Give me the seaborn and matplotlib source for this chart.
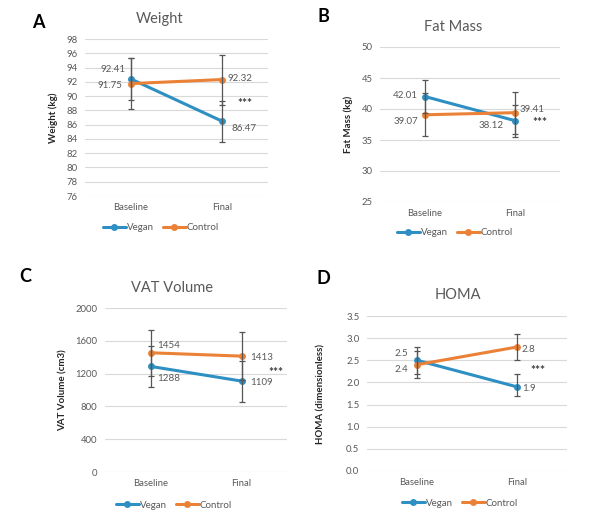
import numpy as np
import pandas as pd
import matplotlib
matplotlib.use("Agg")
import matplotlib.pyplot as plt
import seaborn as sns

# ---------------- data ----------------
categories = ["Baseline", "Final"]
groups = ["Vegan", "Control"]

weight_vegan = [92.41, 86.47]
weight_control = [91.75, 92.32]
weight_vegan_err = [2.9, 2.85]
weight_control_err = [3.55, 3.5]

fat_vegan = [42.01, 38.12]
fat_control = [39.07, 39.41]
fat_vegan_err = [2.7, 2.6]
fat_control_err = [3.5, 3.4]

vat_vegan = [1288, 1109]
vat_control = [1454, 1413]
vat_vegan_err = [250, 250]
vat_control_err = [280, 290]

homa_vegan = [2.5, 1.9]
homa_control = [2.4, 2.8]
homa_vegan_err_low = [0.3, 0.2]
homa_vegan_err_high = [0.3, 0.3]
homa_control_err = [0.3, 0.3]

weight_labels = {"Vegan": ["92.41", "86.47"], "Control": ["91.75", "92.32"]}
fat_labels = {"Vegan": ["42.01", "38.12"], "Control": ["39.07", "39.41"]}
vat_labels = {"Vegan": ["1288", "1109"], "Control": ["1454", "1413"]}
homa_labels = {"Vegan": ["2.5", "1.9"], "Control": ["2.4", "2.8"]}

weight_ticks = list(range(76, 99, 2))
fat_ticks = list(range(25, 51, 5))
vat_ticks = list(range(0, 2001, 400))
homa_ticks = [0.0, 0.5, 1.0, 1.5, 2.0, 2.5, 3.0, 3.5]

titles = ["Weight", "Fat Mass", "VAT Volume", "HOMA"]
ylabels = ["Weight (kg)", "Fat Mass (kg)", "VAT Volume (cm3)", "HOMA (dimensionless)"]
letters = ["A", "B", "C", "D"]

# ---------------- style ----------------
sns.set_style("white")
plt.rcParams["font.family"] = ["Lato", "DejaVu Sans"]

BLUE = "#2E8FC2"
ORANGE = "#EB8136"
GRAY = "#595959"
palette = {"Vegan": BLUE, "Control": ORANGE}

W, H = 600, 524
fig = plt.figure(figsize=(6, 5.24), dpi=100)

def fx(px):
    return px / W

def fy(py):
    return 1 - py / H

def make_axes(l, r, t, b):
    return fig.add_axes([fx(l), fy(b), fx(r) - fx(l), fy(t) - fy(b)])

PX = 0.72  # points per pixel

panels = [
    dict(box=(85, 268, 39, 196), vegan=weight_vegan, control=weight_control,
         verr=(weight_vegan_err, weight_vegan_err), cerr=(weight_control_err, weight_control_err),
         ticks=weight_ticks, fmt="{:.0f}", labels=weight_labels,
         offs={"Vegan": [(-5, 9, "right"), (9, -7, "left")],
               "Control": [(-8, -2, "right"), (5, 1.5, "left")]},
         star=(1.25, 89.0), ylab_x=58, title=(160, 19), letter=(38, 22), legend=(161, 228)),
    dict(box=(380, 560, 47, 202), vegan=fat_vegan, control=fat_control,
         verr=(fat_vegan_err, fat_vegan_err), cerr=(fat_control_err, fat_control_err),
         ticks=fat_ticks, fmt="{:.0f}", labels=fat_labels,
         offs={"Vegan": [(-7, 1.5, "right"), (-11, -5, "right")],
               "Control": [(-7, -7, "right"), (5, 3, "left")]},
         star=(1.28, 37.9), ylab_x=353, title=(453, 27), letter=(323, 17), legend=(455, 233)),
    dict(box=(105, 287, 308, 472), vegan=vat_vegan, control=vat_control,
         verr=(vat_vegan_err, vat_vegan_err), cerr=(vat_control_err, vat_control_err),
         ticks=vat_ticks, fmt="{:.0f}", labels=vat_labels,
         offs={"Vegan": [(7, -12, "left"), (9, -1, "left")],
               "Control": [(7, 7, "left"), (9, -1, "left")]},
         star=(1.38, 1210), ylab_x=68, title=(172, 288), letter=(25, 277), legend=(174, 505)),
    dict(box=(367, 567, 316, 471), vegan=homa_vegan, control=homa_control,
         verr=(homa_vegan_err_low, homa_vegan_err_high), cerr=(homa_control_err, homa_control_err),
         ticks=homa_ticks, fmt="{:.1f}", labels=homa_labels,
         offs={"Vegan": [(-9, 7, "right"), (5, -2, "left")],
               "Control": [(-9, -5, "right"), (5, -2, "left")]},
         star=(1.21, 2.27), ylab_x=325, title=(458, 295), letter=(323, 279), legend=(460, 503)),
]

for i, p in enumerate(panels):
    l, r, t, b = p["box"]
    ax = make_axes(l, r, t, b)
    df = pd.DataFrame({
        "time": categories * 2,
        "value": list(p["vegan"]) + list(p["control"]),
        "group": ["Vegan"] * 2 + ["Control"] * 2,
    })
    sns.lineplot(data=df, x="time", y="value", hue="group", hue_order=groups,
                 palette=palette, marker="o", markersize=5, markeredgewidth=0,
                 linewidth=2.2, ax=ax, zorder=3, sort=False)
    for g, vals, err in (("Vegan", p["vegan"], p["verr"]), ("Control", p["control"], p["cerr"])):
        ax.errorbar(categories, vals, yerr=[err[0], err[1]], fmt="none",
                    ecolor="#555555", elinewidth=0.9, capsize=2.5, capthick=0.9, zorder=4)
        for j, (cat, v) in enumerate(zip(categories, vals)):
            dx, dy, ha = p["offs"][g][j]
            ax.annotate(p["labels"][g][j], (cat, v), xytext=(dx * PX, dy * PX),
                        textcoords="offset points", ha=ha, va="center",
                        fontsize=7, color=GRAY, zorder=5)
    ax.text(p["star"][0], p["star"][1], "***", ha="center", va="center",
            fontsize=8.5, fontweight="bold", color="#404040")

    ticks = p["ticks"]
    ax.set_ylim(ticks[0], ticks[-1])
    ax.set_yticks(ticks)
    ax.set_yticklabels([p["fmt"].format(v) for v in ticks])
    ax.set_xlim(-0.5, 1.5)
    ax.grid(axis="y", color="#D9D9D9", linewidth=0.8)
    ax.grid(axis="x", visible=False)
    for s in ax.spines.values():
        s.set_visible(False)
    ax.tick_params(axis="both", length=0, labelsize=6.8, labelcolor=GRAY)
    ax.tick_params(axis="y", pad=5.5)
    ax.tick_params(axis="x", pad=5)
    ax.set_xlabel("")
    ax.set_ylabel(ylabels[i], fontsize=7, fontweight="bold", color="#262626")
    ax.yaxis.set_label_coords((p["ylab_x"] - l) / (r - l), 0.5)

    handles, labs = ax.get_legend_handles_labels()
    ax.legend(handles, labs, loc="center", bbox_to_anchor=(fx(p["legend"][0]), fy(p["legend"][1])),
              bbox_transform=fig.transFigure, ncol=2, frameon=False, fontsize=7,
              handlelength=2.3, handletextpad=0.1, columnspacing=1.0, labelcolor=GRAY)

    fig.text(fx(p["title"][0]), fy(p["title"][1]), titles[i], ha="center", va="center",
             fontsize=10.5, color=GRAY)
    fig.text(fx(p["letter"][0]), fy(p["letter"][1]), letters[i], ha="center", va="center",
             fontsize=13, fontweight="bold", color="black")

fig.savefig("out.png", dpi=100, facecolor="white")
